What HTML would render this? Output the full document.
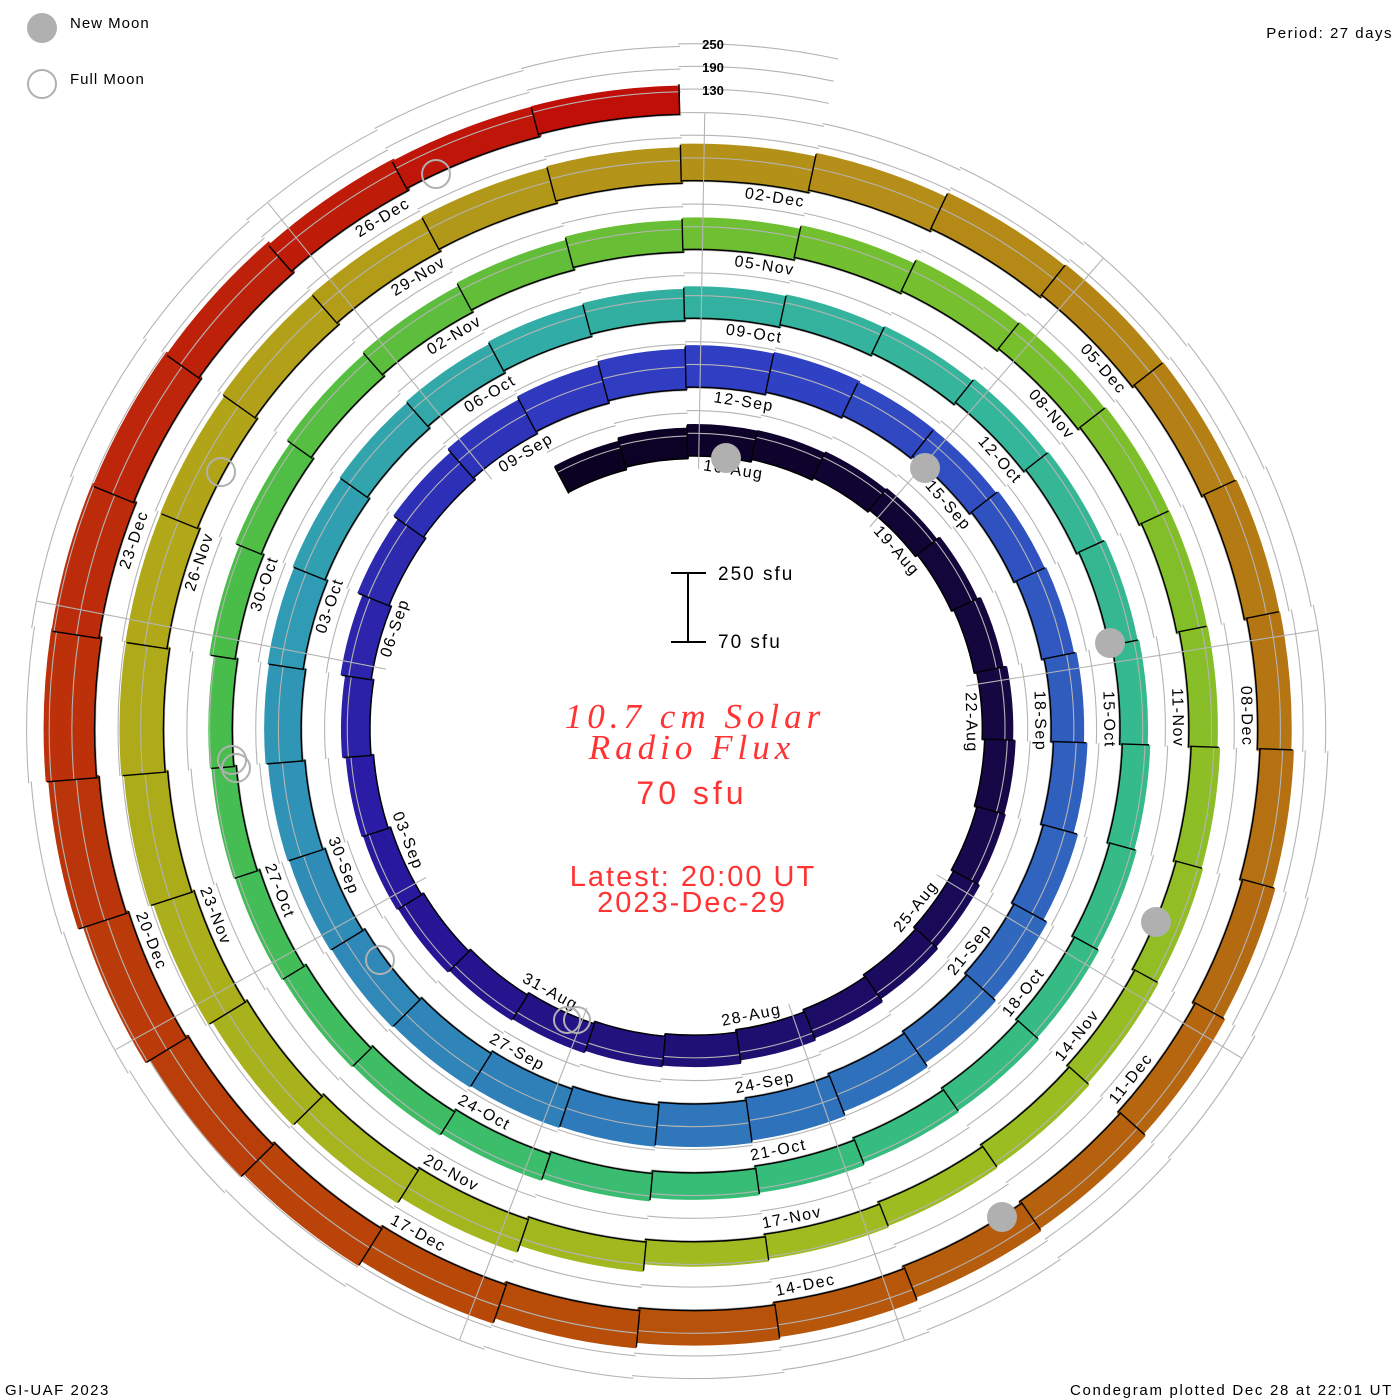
<!DOCTYPE html>
<html><head><meta charset="utf-8"><style>
html,body{margin:0;padding:0;background:#fff;width:1400px;height:1400px;overflow:hidden;}
svg{display:block;font-family:"Liberation Sans",sans-serif;}
.d circle{cx:0;cy:0;fill:none;transform:rotate(calc((var(--k) - 2.1) * 13.3333deg - 90deg));}
.b{r:calc(272px + 2.55px * (var(--k) - 1.6) + var(--h) * 0.5px);stroke:var(--c);stroke-width:calc(var(--h) * 1px);stroke-dasharray:13.6 720;}
.z{r:calc(272px + 2.55px * (var(--k) - 1.6));stroke:#000;stroke-width:1.5px;stroke-dasharray:13.5 720;}
.l1,.l2,.l3{stroke:#b4b4b4;stroke-width:1.1px;stroke-dasharray:13.5 720;}
.l1{r:calc(294.7px + 2.55px * (var(--k) - 1.6));}
.l2{r:calc(317.4px + 2.55px * (var(--k) - 1.6));}
.l3{r:calc(340px + 2.55px * (var(--k) - 1.6));}
.s{x:-0.7px;width:1.4px;y:calc(-272px - 2.55px * (var(--k) - 2.1) - var(--h) * 1px);height:calc(var(--h) * 1px);fill:#000;transform:rotate(calc((var(--k) - 2.1) * 13.3333deg));}
.sp rect{x:-0.55px;width:1.1px;height:355.4px;y:calc(-615.4px - 2.55px * var(--a) / 13.3333);fill:#b4b4b4;transform:rotate(calc(var(--a) * 1deg));}
.lb text{text-anchor:middle;dominant-baseline:central;letter-spacing:1.5px;transform:rotate(calc((0.65 + 3 * var(--i)) * 13.3333deg)) translateY(calc(-260px - 2.55px * (0.65 + 3 * var(--i)))) rotate(var(--f,0deg));}
</style></head><body>
<svg width="1400" height="1400" viewBox="0 0 1400 1400" xmlns="http://www.w3.org/2000/svg">
<rect width="1400" height="1400" fill="#fff"/>
<g transform="translate(694 729)">
<g class="d" style="--k:0;--h:30;--c:#0b0122"><circle class="b" pathLength="360"/><circle class="l1" pathLength="360"/><circle class="l2" pathLength="360"/><circle class="l3" pathLength="360"/><circle class="z" pathLength="360"/><rect class="s"/></g>
<g class="d" style="--k:1;--h:31;--c:#0c0226"><circle class="b" pathLength="360"/><circle class="l1" pathLength="360"/><circle class="l2" pathLength="360"/><circle class="l3" pathLength="360"/><circle class="z" pathLength="360"/><rect class="s"/></g>
<g class="d" style="--k:2;--h:32;--c:#0d032a"><circle class="b" pathLength="360"/><circle class="l1" pathLength="360"/><circle class="l2" pathLength="360"/><circle class="l3" pathLength="360"/><circle class="z" pathLength="360"/><rect class="s"/></g>
<g class="d" style="--k:3;--h:30;--c:#0f032e"><circle class="b" pathLength="360"/><circle class="l1" pathLength="360"/><circle class="l2" pathLength="360"/><circle class="l3" pathLength="360"/><circle class="z" pathLength="360"/><rect class="s"/></g>
<g class="d" style="--k:4;--h:29;--c:#100432"><circle class="b" pathLength="360"/><circle class="l1" pathLength="360"/><circle class="l2" pathLength="360"/><circle class="l3" pathLength="360"/><circle class="z" pathLength="360"/><rect class="s"/></g>
<g class="d" style="--k:5;--h:28;--c:#110536"><circle class="b" pathLength="360"/><circle class="l1" pathLength="360"/><circle class="l2" pathLength="360"/><circle class="l3" pathLength="360"/><circle class="z" pathLength="360"/><rect class="s"/></g>
<g class="d" style="--k:6;--h:29;--c:#12063a"><circle class="b" pathLength="360"/><circle class="l1" pathLength="360"/><circle class="l2" pathLength="360"/><circle class="l3" pathLength="360"/><circle class="z" pathLength="360"/><rect class="s"/></g>
<g class="d" style="--k:7;--h:30;--c:#14073e"><circle class="b" pathLength="360"/><circle class="l1" pathLength="360"/><circle class="l2" pathLength="360"/><circle class="l3" pathLength="360"/><circle class="z" pathLength="360"/><rect class="s"/></g>
<g class="d" style="--k:8;--h:31;--c:#150842"><circle class="b" pathLength="360"/><circle class="l1" pathLength="360"/><circle class="l2" pathLength="360"/><circle class="l3" pathLength="360"/><circle class="z" pathLength="360"/><rect class="s"/></g>
<g class="d" style="--k:9;--h:31;--c:#160846"><circle class="b" pathLength="360"/><circle class="l1" pathLength="360"/><circle class="l2" pathLength="360"/><circle class="l3" pathLength="360"/><circle class="z" pathLength="360"/><rect class="s"/></g>
<g class="d" style="--k:10;--h:30;--c:#18094e"><circle class="b" pathLength="360"/><circle class="l1" pathLength="360"/><circle class="l2" pathLength="360"/><circle class="l3" pathLength="360"/><circle class="z" pathLength="360"/><rect class="s"/></g>
<g class="d" style="--k:11;--h:30;--c:#190a58"><circle class="b" pathLength="360"/><circle class="l1" pathLength="360"/><circle class="l2" pathLength="360"/><circle class="l3" pathLength="360"/><circle class="z" pathLength="360"/><rect class="s"/></g>
<g class="d" style="--k:12;--h:30;--c:#1b0b5e"><circle class="b" pathLength="360"/><circle class="l1" pathLength="360"/><circle class="l2" pathLength="360"/><circle class="l3" pathLength="360"/><circle class="z" pathLength="360"/><rect class="s"/></g>
<g class="d" style="--k:13;--h:31;--c:#1c0c66"><circle class="b" pathLength="360"/><circle class="l1" pathLength="360"/><circle class="l2" pathLength="360"/><circle class="l3" pathLength="360"/><circle class="z" pathLength="360"/><rect class="s"/></g>
<g class="d" style="--k:14;--h:31;--c:#1e0e6e"><circle class="b" pathLength="360"/><circle class="l1" pathLength="360"/><circle class="l2" pathLength="360"/><circle class="l3" pathLength="360"/><circle class="z" pathLength="360"/><rect class="s"/></g>
<g class="d" style="--k:15;--h:32;--c:#1f1076"><circle class="b" pathLength="360"/><circle class="l1" pathLength="360"/><circle class="l2" pathLength="360"/><circle class="l3" pathLength="360"/><circle class="z" pathLength="360"/><rect class="s"/></g>
<g class="d" style="--k:16;--h:31;--c:#21127e"><circle class="b" pathLength="360"/><circle class="l1" pathLength="360"/><circle class="l2" pathLength="360"/><circle class="l3" pathLength="360"/><circle class="z" pathLength="360"/><rect class="s"/></g>
<g class="d" style="--k:17;--h:31;--c:#231386"><circle class="b" pathLength="360"/><circle class="l1" pathLength="360"/><circle class="l2" pathLength="360"/><circle class="l3" pathLength="360"/><circle class="z" pathLength="360"/><rect class="s"/></g>
<g class="d" style="--k:18;--h:30;--c:#24148e"><circle class="b" pathLength="360"/><circle class="l1" pathLength="360"/><circle class="l2" pathLength="360"/><circle class="l3" pathLength="360"/><circle class="z" pathLength="360"/><rect class="s"/></g>
<g class="d" style="--k:19;--h:30;--c:#261696"><circle class="b" pathLength="360"/><circle class="l1" pathLength="360"/><circle class="l2" pathLength="360"/><circle class="l3" pathLength="360"/><circle class="z" pathLength="360"/><rect class="s"/></g>
<g class="d" style="--k:20;--h:29;--c:#28189e"><circle class="b" pathLength="360"/><circle class="l1" pathLength="360"/><circle class="l2" pathLength="360"/><circle class="l3" pathLength="360"/><circle class="z" pathLength="360"/><rect class="s"/></g>
<g class="d" style="--k:21;--h:28;--c:#2a1ca4"><circle class="b" pathLength="360"/><circle class="l1" pathLength="360"/><circle class="l2" pathLength="360"/><circle class="l3" pathLength="360"/><circle class="z" pathLength="360"/><rect class="s"/></g>
<g class="d" style="--k:22;--h:29;--c:#2b20a8"><circle class="b" pathLength="360"/><circle class="l1" pathLength="360"/><circle class="l2" pathLength="360"/><circle class="l3" pathLength="360"/><circle class="z" pathLength="360"/><rect class="s"/></g>
<g class="d" style="--k:23;--h:31;--c:#2c25ac"><circle class="b" pathLength="360"/><circle class="l1" pathLength="360"/><circle class="l2" pathLength="360"/><circle class="l3" pathLength="360"/><circle class="z" pathLength="360"/><rect class="s"/></g>
<g class="d" style="--k:24;--h:34;--c:#2d2ab0"><circle class="b" pathLength="360"/><circle class="l1" pathLength="360"/><circle class="l2" pathLength="360"/><circle class="l3" pathLength="360"/><circle class="z" pathLength="360"/><rect class="s"/></g>
<g class="d" style="--k:25;--h:37;--c:#2d2fb6"><circle class="b" pathLength="360"/><circle class="l1" pathLength="360"/><circle class="l2" pathLength="360"/><circle class="l3" pathLength="360"/><circle class="z" pathLength="360"/><rect class="s"/></g>
<g class="d" style="--k:26;--h:39;--c:#2e34ba"><circle class="b" pathLength="360"/><circle class="l1" pathLength="360"/><circle class="l2" pathLength="360"/><circle class="l3" pathLength="360"/><circle class="z" pathLength="360"/><rect class="s"/></g>
<g class="d" style="--k:27;--h:40;--c:#2f38be"><circle class="b" pathLength="360"/><circle class="l1" pathLength="360"/><circle class="l2" pathLength="360"/><circle class="l3" pathLength="360"/><circle class="z" pathLength="360"/><rect class="s"/></g>
<g class="d" style="--k:28;--h:41;--c:#303cc2"><circle class="b" pathLength="360"/><circle class="l1" pathLength="360"/><circle class="l2" pathLength="360"/><circle class="l3" pathLength="360"/><circle class="z" pathLength="360"/><rect class="s"/></g>
<g class="d" style="--k:29;--h:42;--c:#303ec4"><circle class="b" pathLength="360"/><circle class="l1" pathLength="360"/><circle class="l2" pathLength="360"/><circle class="l3" pathLength="360"/><circle class="z" pathLength="360"/><rect class="s"/></g>
<g class="d" style="--k:30;--h:41;--c:#3042c4"><circle class="b" pathLength="360"/><circle class="l1" pathLength="360"/><circle class="l2" pathLength="360"/><circle class="l3" pathLength="360"/><circle class="z" pathLength="360"/><rect class="s"/></g>
<g class="d" style="--k:31;--h:37;--c:#3048c2"><circle class="b" pathLength="360"/><circle class="l1" pathLength="360"/><circle class="l2" pathLength="360"/><circle class="l3" pathLength="360"/><circle class="z" pathLength="360"/><rect class="s"/></g>
<g class="d" style="--k:32;--h:34;--c:#304ec2"><circle class="b" pathLength="360"/><circle class="l1" pathLength="360"/><circle class="l2" pathLength="360"/><circle class="l3" pathLength="360"/><circle class="z" pathLength="360"/><rect class="s"/></g>
<g class="d" style="--k:33;--h:34;--c:#3052c0"><circle class="b" pathLength="360"/><circle class="l1" pathLength="360"/><circle class="l2" pathLength="360"/><circle class="l3" pathLength="360"/><circle class="z" pathLength="360"/><rect class="s"/></g>
<g class="d" style="--k:34;--h:33;--c:#3058c0"><circle class="b" pathLength="360"/><circle class="l1" pathLength="360"/><circle class="l2" pathLength="360"/><circle class="l3" pathLength="360"/><circle class="z" pathLength="360"/><rect class="s"/></g>
<g class="d" style="--k:35;--h:33;--c:#305cbe"><circle class="b" pathLength="360"/><circle class="l1" pathLength="360"/><circle class="l2" pathLength="360"/><circle class="l3" pathLength="360"/><circle class="z" pathLength="360"/><rect class="s"/></g>
<g class="d" style="--k:36;--h:34;--c:#3060be"><circle class="b" pathLength="360"/><circle class="l1" pathLength="360"/><circle class="l2" pathLength="360"/><circle class="l3" pathLength="360"/><circle class="z" pathLength="360"/><rect class="s"/></g>
<g class="d" style="--k:37;--h:36;--c:#3064be"><circle class="b" pathLength="360"/><circle class="l1" pathLength="360"/><circle class="l2" pathLength="360"/><circle class="l3" pathLength="360"/><circle class="z" pathLength="360"/><rect class="s"/></g>
<g class="d" style="--k:38;--h:38;--c:#2f68bc"><circle class="b" pathLength="360"/><circle class="l1" pathLength="360"/><circle class="l2" pathLength="360"/><circle class="l3" pathLength="360"/><circle class="z" pathLength="360"/><rect class="s"/></g>
<g class="d" style="--k:39;--h:39;--c:#2f6cbc"><circle class="b" pathLength="360"/><circle class="l1" pathLength="360"/><circle class="l2" pathLength="360"/><circle class="l3" pathLength="360"/><circle class="z" pathLength="360"/><rect class="s"/></g>
<g class="d" style="--k:40;--h:41;--c:#2f70bc"><circle class="b" pathLength="360"/><circle class="l1" pathLength="360"/><circle class="l2" pathLength="360"/><circle class="l3" pathLength="360"/><circle class="z" pathLength="360"/><rect class="s"/></g>
<g class="d" style="--k:41;--h:43;--c:#2f72bc"><circle class="b" pathLength="360"/><circle class="l1" pathLength="360"/><circle class="l2" pathLength="360"/><circle class="l3" pathLength="360"/><circle class="z" pathLength="360"/><rect class="s"/></g>
<g class="d" style="--k:42;--h:43;--c:#2f76bb"><circle class="b" pathLength="360"/><circle class="l1" pathLength="360"/><circle class="l2" pathLength="360"/><circle class="l3" pathLength="360"/><circle class="z" pathLength="360"/><rect class="s"/></g>
<g class="d" style="--k:43;--h:42;--c:#2f7aba"><circle class="b" pathLength="360"/><circle class="l1" pathLength="360"/><circle class="l2" pathLength="360"/><circle class="l3" pathLength="360"/><circle class="z" pathLength="360"/><rect class="s"/></g>
<g class="d" style="--k:44;--h:41;--c:#2f7fb9"><circle class="b" pathLength="360"/><circle class="l1" pathLength="360"/><circle class="l2" pathLength="360"/><circle class="l3" pathLength="360"/><circle class="z" pathLength="360"/><rect class="s"/></g>
<g class="d" style="--k:45;--h:40;--c:#2f84b8"><circle class="b" pathLength="360"/><circle class="l1" pathLength="360"/><circle class="l2" pathLength="360"/><circle class="l3" pathLength="360"/><circle class="z" pathLength="360"/><rect class="s"/></g>
<g class="d" style="--k:46;--h:39;--c:#2f88b8"><circle class="b" pathLength="360"/><circle class="l1" pathLength="360"/><circle class="l2" pathLength="360"/><circle class="l3" pathLength="360"/><circle class="z" pathLength="360"/><rect class="s"/></g>
<g class="d" style="--k:47;--h:38;--c:#2f8cb7"><circle class="b" pathLength="360"/><circle class="l1" pathLength="360"/><circle class="l2" pathLength="360"/><circle class="l3" pathLength="360"/><circle class="z" pathLength="360"/><rect class="s"/></g>
<g class="d" style="--k:48;--h:37;--c:#3092b6"><circle class="b" pathLength="360"/><circle class="l1" pathLength="360"/><circle class="l2" pathLength="360"/><circle class="l3" pathLength="360"/><circle class="z" pathLength="360"/><rect class="s"/></g>
<g class="d" style="--k:49;--h:37;--c:#3096b5"><circle class="b" pathLength="360"/><circle class="l1" pathLength="360"/><circle class="l2" pathLength="360"/><circle class="l3" pathLength="360"/><circle class="z" pathLength="360"/><rect class="s"/></g>
<g class="d" style="--k:50;--h:36;--c:#309bb4"><circle class="b" pathLength="360"/><circle class="l1" pathLength="360"/><circle class="l2" pathLength="360"/><circle class="l3" pathLength="360"/><circle class="z" pathLength="360"/><rect class="s"/></g>
<g class="d" style="--k:51;--h:35;--c:#30a0b0"><circle class="b" pathLength="360"/><circle class="l1" pathLength="360"/><circle class="l2" pathLength="360"/><circle class="l3" pathLength="360"/><circle class="z" pathLength="360"/><rect class="s"/></g>
<g class="d" style="--k:52;--h:34;--c:#31a4ac"><circle class="b" pathLength="360"/><circle class="l1" pathLength="360"/><circle class="l2" pathLength="360"/><circle class="l3" pathLength="360"/><circle class="z" pathLength="360"/><rect class="s"/></g>
<g class="d" style="--k:53;--h:33;--c:#32a8a8"><circle class="b" pathLength="360"/><circle class="l1" pathLength="360"/><circle class="l2" pathLength="360"/><circle class="l3" pathLength="360"/><circle class="z" pathLength="360"/><rect class="s"/></g>
<g class="d" style="--k:54;--h:33;--c:#32aca6"><circle class="b" pathLength="360"/><circle class="l1" pathLength="360"/><circle class="l2" pathLength="360"/><circle class="l3" pathLength="360"/><circle class="z" pathLength="360"/><rect class="s"/></g>
<g class="d" style="--k:55;--h:32;--c:#33afa2"><circle class="b" pathLength="360"/><circle class="l1" pathLength="360"/><circle class="l2" pathLength="360"/><circle class="l3" pathLength="360"/><circle class="z" pathLength="360"/><rect class="s"/></g>
<g class="d" style="--k:56;--h:32;--c:#33b1a0"><circle class="b" pathLength="360"/><circle class="l1" pathLength="360"/><circle class="l2" pathLength="360"/><circle class="l3" pathLength="360"/><circle class="z" pathLength="360"/><rect class="s"/></g>
<g class="d" style="--k:57;--h:31;--c:#34b39e"><circle class="b" pathLength="360"/><circle class="l1" pathLength="360"/><circle class="l2" pathLength="360"/><circle class="l3" pathLength="360"/><circle class="z" pathLength="360"/><rect class="s"/></g>
<g class="d" style="--k:58;--h:30;--c:#34b59c"><circle class="b" pathLength="360"/><circle class="l1" pathLength="360"/><circle class="l2" pathLength="360"/><circle class="l3" pathLength="360"/><circle class="z" pathLength="360"/><rect class="s"/></g>
<g class="d" style="--k:59;--h:30;--c:#34b69a"><circle class="b" pathLength="360"/><circle class="l1" pathLength="360"/><circle class="l2" pathLength="360"/><circle class="l3" pathLength="360"/><circle class="z" pathLength="360"/><rect class="s"/></g>
<g class="d" style="--k:60;--h:29;--c:#35b796"><circle class="b" pathLength="360"/><circle class="l1" pathLength="360"/><circle class="l2" pathLength="360"/><circle class="l3" pathLength="360"/><circle class="z" pathLength="360"/><rect class="s"/></g>
<g class="d" style="--k:61;--h:29;--c:#35b892"><circle class="b" pathLength="360"/><circle class="l1" pathLength="360"/><circle class="l2" pathLength="360"/><circle class="l3" pathLength="360"/><circle class="z" pathLength="360"/><rect class="s"/></g>
<g class="d" style="--k:62;--h:28;--c:#35b98e"><circle class="b" pathLength="360"/><circle class="l1" pathLength="360"/><circle class="l2" pathLength="360"/><circle class="l3" pathLength="360"/><circle class="z" pathLength="360"/><rect class="s"/></g>
<g class="d" style="--k:63;--h:28;--c:#35ba8a"><circle class="b" pathLength="360"/><circle class="l1" pathLength="360"/><circle class="l2" pathLength="360"/><circle class="l3" pathLength="360"/><circle class="z" pathLength="360"/><rect class="s"/></g>
<g class="d" style="--k:64;--h:28;--c:#36bb86"><circle class="b" pathLength="360"/><circle class="l1" pathLength="360"/><circle class="l2" pathLength="360"/><circle class="l3" pathLength="360"/><circle class="z" pathLength="360"/><rect class="s"/></g>
<g class="d" style="--k:65;--h:28;--c:#36bb84"><circle class="b" pathLength="360"/><circle class="l1" pathLength="360"/><circle class="l2" pathLength="360"/><circle class="l3" pathLength="360"/><circle class="z" pathLength="360"/><rect class="s"/></g>
<g class="d" style="--k:66;--h:28;--c:#36bc80"><circle class="b" pathLength="360"/><circle class="l1" pathLength="360"/><circle class="l2" pathLength="360"/><circle class="l3" pathLength="360"/><circle class="z" pathLength="360"/><rect class="s"/></g>
<g class="d" style="--k:67;--h:27;--c:#36bc7e"><circle class="b" pathLength="360"/><circle class="l1" pathLength="360"/><circle class="l2" pathLength="360"/><circle class="l3" pathLength="360"/><circle class="z" pathLength="360"/><rect class="s"/></g>
<g class="d" style="--k:68;--h:27;--c:#36bd7c"><circle class="b" pathLength="360"/><circle class="l1" pathLength="360"/><circle class="l2" pathLength="360"/><circle class="l3" pathLength="360"/><circle class="z" pathLength="360"/><rect class="s"/></g>
<g class="d" style="--k:69;--h:27;--c:#38bd76"><circle class="b" pathLength="360"/><circle class="l1" pathLength="360"/><circle class="l2" pathLength="360"/><circle class="l3" pathLength="360"/><circle class="z" pathLength="360"/><rect class="s"/></g>
<g class="d" style="--k:70;--h:28;--c:#3abd70"><circle class="b" pathLength="360"/><circle class="l1" pathLength="360"/><circle class="l2" pathLength="360"/><circle class="l3" pathLength="360"/><circle class="z" pathLength="360"/><rect class="s"/></g>
<g class="d" style="--k:71;--h:28;--c:#3cbd6a"><circle class="b" pathLength="360"/><circle class="l1" pathLength="360"/><circle class="l2" pathLength="360"/><circle class="l3" pathLength="360"/><circle class="z" pathLength="360"/><rect class="s"/></g>
<g class="d" style="--k:72;--h:28;--c:#3ebd64"><circle class="b" pathLength="360"/><circle class="l1" pathLength="360"/><circle class="l2" pathLength="360"/><circle class="l3" pathLength="360"/><circle class="z" pathLength="360"/><rect class="s"/></g>
<g class="d" style="--k:73;--h:27;--c:#40bd5e"><circle class="b" pathLength="360"/><circle class="l1" pathLength="360"/><circle class="l2" pathLength="360"/><circle class="l3" pathLength="360"/><circle class="z" pathLength="360"/><rect class="s"/></g>
<g class="d" style="--k:74;--h:26;--c:#43bd58"><circle class="b" pathLength="360"/><circle class="l1" pathLength="360"/><circle class="l2" pathLength="360"/><circle class="l3" pathLength="360"/><circle class="z" pathLength="360"/><rect class="s"/></g>
<g class="d" style="--k:75;--h:25;--c:#45bd52"><circle class="b" pathLength="360"/><circle class="l1" pathLength="360"/><circle class="l2" pathLength="360"/><circle class="l3" pathLength="360"/><circle class="z" pathLength="360"/><rect class="s"/></g>
<g class="d" style="--k:76;--h:24;--c:#48bd4c"><circle class="b" pathLength="360"/><circle class="l1" pathLength="360"/><circle class="l2" pathLength="360"/><circle class="l3" pathLength="360"/><circle class="z" pathLength="360"/><rect class="s"/></g>
<g class="d" style="--k:77;--h:26;--c:#4abd48"><circle class="b" pathLength="360"/><circle class="l1" pathLength="360"/><circle class="l2" pathLength="360"/><circle class="l3" pathLength="360"/><circle class="z" pathLength="360"/><rect class="s"/></g>
<g class="d" style="--k:78;--h:28;--c:#50bd44"><circle class="b" pathLength="360"/><circle class="l1" pathLength="360"/><circle class="l2" pathLength="360"/><circle class="l3" pathLength="360"/><circle class="z" pathLength="360"/><rect class="s"/></g>
<g class="d" style="--k:79;--h:30;--c:#56be40"><circle class="b" pathLength="360"/><circle class="l1" pathLength="360"/><circle class="l2" pathLength="360"/><circle class="l3" pathLength="360"/><circle class="z" pathLength="360"/><rect class="s"/></g>
<g class="d" style="--k:80;--h:30;--c:#5cbe3c"><circle class="b" pathLength="360"/><circle class="l1" pathLength="360"/><circle class="l2" pathLength="360"/><circle class="l3" pathLength="360"/><circle class="z" pathLength="360"/><rect class="s"/></g>
<g class="d" style="--k:81;--h:31;--c:#62be38"><circle class="b" pathLength="360"/><circle class="l1" pathLength="360"/><circle class="l2" pathLength="360"/><circle class="l3" pathLength="360"/><circle class="z" pathLength="360"/><rect class="s"/></g>
<g class="d" style="--k:82;--h:32;--c:#68be35"><circle class="b" pathLength="360"/><circle class="l1" pathLength="360"/><circle class="l2" pathLength="360"/><circle class="l3" pathLength="360"/><circle class="z" pathLength="360"/><rect class="s"/></g>
<g class="d" style="--k:83;--h:32;--c:#6ebf32"><circle class="b" pathLength="360"/><circle class="l1" pathLength="360"/><circle class="l2" pathLength="360"/><circle class="l3" pathLength="360"/><circle class="z" pathLength="360"/><rect class="s"/></g>
<g class="d" style="--k:84;--h:33;--c:#72bf30"><circle class="b" pathLength="360"/><circle class="l1" pathLength="360"/><circle class="l2" pathLength="360"/><circle class="l3" pathLength="360"/><circle class="z" pathLength="360"/><rect class="s"/></g>
<g class="d" style="--k:85;--h:35;--c:#76bf2e"><circle class="b" pathLength="360"/><circle class="l1" pathLength="360"/><circle class="l2" pathLength="360"/><circle class="l3" pathLength="360"/><circle class="z" pathLength="360"/><rect class="s"/></g>
<g class="d" style="--k:86;--h:34;--c:#78bf2c"><circle class="b" pathLength="360"/><circle class="l1" pathLength="360"/><circle class="l2" pathLength="360"/><circle class="l3" pathLength="360"/><circle class="z" pathLength="360"/><rect class="s"/></g>
<g class="d" style="--k:87;--h:33;--c:#7cbf2a"><circle class="b" pathLength="360"/><circle class="l1" pathLength="360"/><circle class="l2" pathLength="360"/><circle class="l3" pathLength="360"/><circle class="z" pathLength="360"/><rect class="s"/></g>
<g class="d" style="--k:88;--h:31;--c:#82be28"><circle class="b" pathLength="360"/><circle class="l1" pathLength="360"/><circle class="l2" pathLength="360"/><circle class="l3" pathLength="360"/><circle class="z" pathLength="360"/><rect class="s"/></g>
<g class="d" style="--k:89;--h:29;--c:#88be27"><circle class="b" pathLength="360"/><circle class="l1" pathLength="360"/><circle class="l2" pathLength="360"/><circle class="l3" pathLength="360"/><circle class="z" pathLength="360"/><rect class="s"/></g>
<g class="d" style="--k:90;--h:29;--c:#8dbe25"><circle class="b" pathLength="360"/><circle class="l1" pathLength="360"/><circle class="l2" pathLength="360"/><circle class="l3" pathLength="360"/><circle class="z" pathLength="360"/><rect class="s"/></g>
<g class="d" style="--k:91;--h:28;--c:#92bd24"><circle class="b" pathLength="360"/><circle class="l1" pathLength="360"/><circle class="l2" pathLength="360"/><circle class="l3" pathLength="360"/><circle class="z" pathLength="360"/><rect class="s"/></g>
<g class="d" style="--k:92;--h:27;--c:#96bd22"><circle class="b" pathLength="360"/><circle class="l1" pathLength="360"/><circle class="l2" pathLength="360"/><circle class="l3" pathLength="360"/><circle class="z" pathLength="360"/><rect class="s"/></g>
<g class="d" style="--k:93;--h:27;--c:#9abd21"><circle class="b" pathLength="360"/><circle class="l1" pathLength="360"/><circle class="l2" pathLength="360"/><circle class="l3" pathLength="360"/><circle class="z" pathLength="360"/><rect class="s"/></g>
<g class="d" style="--k:94;--h:26;--c:#9dbc20"><circle class="b" pathLength="360"/><circle class="l1" pathLength="360"/><circle class="l2" pathLength="360"/><circle class="l3" pathLength="360"/><circle class="z" pathLength="360"/><rect class="s"/></g>
<g class="d" style="--k:95;--h:25;--c:#9ebc20"><circle class="b" pathLength="360"/><circle class="l1" pathLength="360"/><circle class="l2" pathLength="360"/><circle class="l3" pathLength="360"/><circle class="z" pathLength="360"/><rect class="s"/></g>
<g class="d" style="--k:96;--h:25;--c:#a0ba20"><circle class="b" pathLength="360"/><circle class="l1" pathLength="360"/><circle class="l2" pathLength="360"/><circle class="l3" pathLength="360"/><circle class="z" pathLength="360"/><rect class="s"/></g>
<g class="d" style="--k:97;--h:30;--c:#a2b81f"><circle class="b" pathLength="360"/><circle class="l1" pathLength="360"/><circle class="l2" pathLength="360"/><circle class="l3" pathLength="360"/><circle class="z" pathLength="360"/><rect class="s"/></g>
<g class="d" style="--k:98;--h:35;--c:#a4b61e"><circle class="b" pathLength="360"/><circle class="l1" pathLength="360"/><circle class="l2" pathLength="360"/><circle class="l3" pathLength="360"/><circle class="z" pathLength="360"/><rect class="s"/></g>
<g class="d" style="--k:99;--h:39;--c:#a6b41d"><circle class="b" pathLength="360"/><circle class="l1" pathLength="360"/><circle class="l2" pathLength="360"/><circle class="l3" pathLength="360"/><circle class="z" pathLength="360"/><rect class="s"/></g>
<g class="d" style="--k:100;--h:41;--c:#a8b21c"><circle class="b" pathLength="360"/><circle class="l1" pathLength="360"/><circle class="l2" pathLength="360"/><circle class="l3" pathLength="360"/><circle class="z" pathLength="360"/><rect class="s"/></g>
<g class="d" style="--k:101;--h:43;--c:#aaaf1b"><circle class="b" pathLength="360"/><circle class="l1" pathLength="360"/><circle class="l2" pathLength="360"/><circle class="l3" pathLength="360"/><circle class="z" pathLength="360"/><rect class="s"/></g>
<g class="d" style="--k:102;--h:44;--c:#acac1a"><circle class="b" pathLength="360"/><circle class="l1" pathLength="360"/><circle class="l2" pathLength="360"/><circle class="l3" pathLength="360"/><circle class="z" pathLength="360"/><rect class="s"/></g>
<g class="d" style="--k:103;--h:44;--c:#aeaa19"><circle class="b" pathLength="360"/><circle class="l1" pathLength="360"/><circle class="l2" pathLength="360"/><circle class="l3" pathLength="360"/><circle class="z" pathLength="360"/><rect class="s"/></g>
<g class="d" style="--k:104;--h:42;--c:#b0a818"><circle class="b" pathLength="360"/><circle class="l1" pathLength="360"/><circle class="l2" pathLength="360"/><circle class="l3" pathLength="360"/><circle class="z" pathLength="360"/><rect class="s"/></g>
<g class="d" style="--k:105;--h:40;--c:#b1a418"><circle class="b" pathLength="360"/><circle class="l1" pathLength="360"/><circle class="l2" pathLength="360"/><circle class="l3" pathLength="360"/><circle class="z" pathLength="360"/><rect class="s"/></g>
<g class="d" style="--k:106;--h:40;--c:#b1a018"><circle class="b" pathLength="360"/><circle class="l1" pathLength="360"/><circle class="l2" pathLength="360"/><circle class="l3" pathLength="360"/><circle class="z" pathLength="360"/><rect class="s"/></g>
<g class="d" style="--k:107;--h:38;--c:#b29c18"><circle class="b" pathLength="360"/><circle class="l1" pathLength="360"/><circle class="l2" pathLength="360"/><circle class="l3" pathLength="360"/><circle class="z" pathLength="360"/><rect class="s"/></g>
<g class="d" style="--k:108;--h:37;--c:#b29818"><circle class="b" pathLength="360"/><circle class="l1" pathLength="360"/><circle class="l2" pathLength="360"/><circle class="l3" pathLength="360"/><circle class="z" pathLength="360"/><rect class="s"/></g>
<g class="d" style="--k:109;--h:36;--c:#b39418"><circle class="b" pathLength="360"/><circle class="l1" pathLength="360"/><circle class="l2" pathLength="360"/><circle class="l3" pathLength="360"/><circle class="z" pathLength="360"/><rect class="s"/></g>
<g class="d" style="--k:110;--h:37;--c:#b39118"><circle class="b" pathLength="360"/><circle class="l1" pathLength="360"/><circle class="l2" pathLength="360"/><circle class="l3" pathLength="360"/><circle class="z" pathLength="360"/><rect class="s"/></g>
<g class="d" style="--k:111;--h:38;--c:#b48e18"><circle class="b" pathLength="360"/><circle class="l1" pathLength="360"/><circle class="l2" pathLength="360"/><circle class="l3" pathLength="360"/><circle class="z" pathLength="360"/><rect class="s"/></g>
<g class="d" style="--k:112;--h:40;--c:#b48916"><circle class="b" pathLength="360"/><circle class="l1" pathLength="360"/><circle class="l2" pathLength="360"/><circle class="l3" pathLength="360"/><circle class="z" pathLength="360"/><rect class="s"/></g>
<g class="d" style="--k:113;--h:39;--c:#b48415"><circle class="b" pathLength="360"/><circle class="l1" pathLength="360"/><circle class="l2" pathLength="360"/><circle class="l3" pathLength="360"/><circle class="z" pathLength="360"/><rect class="s"/></g>
<g class="d" style="--k:114;--h:37;--c:#b47f14"><circle class="b" pathLength="360"/><circle class="l1" pathLength="360"/><circle class="l2" pathLength="360"/><circle class="l3" pathLength="360"/><circle class="z" pathLength="360"/><rect class="s"/></g>
<g class="d" style="--k:115;--h:36;--c:#b47a13"><circle class="b" pathLength="360"/><circle class="l1" pathLength="360"/><circle class="l2" pathLength="360"/><circle class="l3" pathLength="360"/><circle class="z" pathLength="360"/><rect class="s"/></g>
<g class="d" style="--k:116;--h:34;--c:#b47512"><circle class="b" pathLength="360"/><circle class="l1" pathLength="360"/><circle class="l2" pathLength="360"/><circle class="l3" pathLength="360"/><circle class="z" pathLength="360"/><rect class="s"/></g>
<g class="d" style="--k:117;--h:34;--c:#b47011"><circle class="b" pathLength="360"/><circle class="l1" pathLength="360"/><circle class="l2" pathLength="360"/><circle class="l3" pathLength="360"/><circle class="z" pathLength="360"/><rect class="s"/></g>
<g class="d" style="--k:118;--h:34;--c:#b46a10"><circle class="b" pathLength="360"/><circle class="l1" pathLength="360"/><circle class="l2" pathLength="360"/><circle class="l3" pathLength="360"/><circle class="z" pathLength="360"/><rect class="s"/></g>
<g class="d" style="--k:119;--h:34;--c:#b5660f"><circle class="b" pathLength="360"/><circle class="l1" pathLength="360"/><circle class="l2" pathLength="360"/><circle class="l3" pathLength="360"/><circle class="z" pathLength="360"/><rect class="s"/></g>
<g class="d" style="--k:120;--h:34;--c:#b5610e"><circle class="b" pathLength="360"/><circle class="l1" pathLength="360"/><circle class="l2" pathLength="360"/><circle class="l3" pathLength="360"/><circle class="z" pathLength="360"/><rect class="s"/></g>
<g class="d" style="--k:121;--h:34;--c:#b65c0d"><circle class="b" pathLength="360"/><circle class="l1" pathLength="360"/><circle class="l2" pathLength="360"/><circle class="l3" pathLength="360"/><circle class="z" pathLength="360"/><rect class="s"/></g>
<g class="d" style="--k:122;--h:35;--c:#b6570b"><circle class="b" pathLength="360"/><circle class="l1" pathLength="360"/><circle class="l2" pathLength="360"/><circle class="l3" pathLength="360"/><circle class="z" pathLength="360"/><rect class="s"/></g>
<g class="d" style="--k:123;--h:35;--c:#b7520a"><circle class="b" pathLength="360"/><circle class="l1" pathLength="360"/><circle class="l2" pathLength="360"/><circle class="l3" pathLength="360"/><circle class="z" pathLength="360"/><rect class="s"/></g>
<g class="d" style="--k:124;--h:38;--c:#b74d09"><circle class="b" pathLength="360"/><circle class="l1" pathLength="360"/><circle class="l2" pathLength="360"/><circle class="l3" pathLength="360"/><circle class="z" pathLength="360"/><rect class="s"/></g>
<g class="d" style="--k:125;--h:41;--c:#b84808"><circle class="b" pathLength="360"/><circle class="l1" pathLength="360"/><circle class="l2" pathLength="360"/><circle class="l3" pathLength="360"/><circle class="z" pathLength="360"/><rect class="s"/></g>
<g class="d" style="--k:126;--h:44;--c:#b94308"><circle class="b" pathLength="360"/><circle class="l1" pathLength="360"/><circle class="l2" pathLength="360"/><circle class="l3" pathLength="360"/><circle class="z" pathLength="360"/><rect class="s"/></g>
<g class="d" style="--k:127;--h:46;--c:#b93e09"><circle class="b" pathLength="360"/><circle class="l1" pathLength="360"/><circle class="l2" pathLength="360"/><circle class="l3" pathLength="360"/><circle class="z" pathLength="360"/><rect class="s"/></g>
<g class="d" style="--k:128;--h:48;--c:#ba3a09"><circle class="b" pathLength="360"/><circle class="l1" pathLength="360"/><circle class="l2" pathLength="360"/><circle class="l3" pathLength="360"/><circle class="z" pathLength="360"/><rect class="s"/></g>
<g class="d" style="--k:129;--h:51;--c:#bb350a"><circle class="b" pathLength="360"/><circle class="l1" pathLength="360"/><circle class="l2" pathLength="360"/><circle class="l3" pathLength="360"/><circle class="z" pathLength="360"/><rect class="s"/></g>
<g class="d" style="--k:130;--h:51;--c:#bc300a"><circle class="b" pathLength="360"/><circle class="l1" pathLength="360"/><circle class="l2" pathLength="360"/><circle class="l3" pathLength="360"/><circle class="z" pathLength="360"/><rect class="s"/></g>
<g class="d" style="--k:131;--h:48;--c:#bc2b0a"><circle class="b" pathLength="360"/><circle class="l1" pathLength="360"/><circle class="l2" pathLength="360"/><circle class="l3" pathLength="360"/><circle class="z" pathLength="360"/><rect class="s"/></g>
<g class="d" style="--k:132;--h:44;--c:#bd260a"><circle class="b" pathLength="360"/><circle class="l1" pathLength="360"/><circle class="l2" pathLength="360"/><circle class="l3" pathLength="360"/><circle class="z" pathLength="360"/><rect class="s"/></g>
<g class="d" style="--k:133;--h:40;--c:#be210a"><circle class="b" pathLength="360"/><circle class="l1" pathLength="360"/><circle class="l2" pathLength="360"/><circle class="l3" pathLength="360"/><circle class="z" pathLength="360"/><rect class="s"/></g>
<g class="d" style="--k:134;--h:35;--c:#be1c09"><circle class="b" pathLength="360"/><circle class="l1" pathLength="360"/><circle class="l2" pathLength="360"/><circle class="l3" pathLength="360"/><circle class="z" pathLength="360"/><rect class="s"/></g>
<g class="d" style="--k:135;--h:31;--c:#bf1609"><circle class="b" pathLength="360"/><circle class="l1" pathLength="360"/><circle class="l2" pathLength="360"/><circle class="l3" pathLength="360"/><circle class="z" pathLength="360"/><rect class="s"/></g>
<g class="d" style="--k:136;--h:29;--c:#c00f08"><circle class="b" pathLength="360" style="stroke-dasharray:13.4 720"/><circle class="l1" pathLength="360"/><circle class="l2" pathLength="360"/><circle class="l3" pathLength="360"/><circle class="z" pathLength="360" style="stroke-dasharray:13.4 720"/><rect class="s"/></g>
<g class="d" style="--k:137;--h:29;--c:#c00f08"><circle class="l1" pathLength="360"/><circle class="l2" pathLength="360"/><circle class="l3" pathLength="360"/><rect class="s"/></g>
<g class="sp">
<rect style="--a:1"/><rect style="--a:41"/><rect style="--a:81"/><rect style="--a:121"/><rect style="--a:161"/><rect style="--a:201"/><rect style="--a:241"/><rect style="--a:281"/><rect style="--a:321"/>
</g>
<g class="lb" font-size="16" fill="#000">
<text style="--i:0">16-Aug</text><text style="--i:1">19-Aug</text><text style="--i:2">22-Aug</text><text style="--i:3;--f:180deg">25-Aug</text><text style="--i:4;--f:180deg">28-Aug</text><text style="--i:5;--f:180deg">31-Aug</text>
<text style="--i:6;--f:180deg">03-Sep</text><text style="--i:7">06-Sep</text><text style="--i:8">09-Sep</text><text style="--i:9">12-Sep</text><text style="--i:10">15-Sep</text><text style="--i:11">18-Sep</text><text style="--i:12;--f:180deg">21-Sep</text><text style="--i:13;--f:180deg">24-Sep</text><text style="--i:14;--f:180deg">27-Sep</text><text style="--i:15;--f:180deg">30-Sep</text>
<text style="--i:16">03-Oct</text><text style="--i:17">06-Oct</text><text style="--i:18">09-Oct</text><text style="--i:19">12-Oct</text><text style="--i:20">15-Oct</text><text style="--i:21;--f:180deg">18-Oct</text><text style="--i:22;--f:180deg">21-Oct</text><text style="--i:23;--f:180deg">24-Oct</text><text style="--i:24;--f:180deg">27-Oct</text><text style="--i:25">30-Oct</text>
<text style="--i:26">02-Nov</text><text style="--i:27">05-Nov</text><text style="--i:28">08-Nov</text><text style="--i:29">11-Nov</text><text style="--i:30;--f:180deg">14-Nov</text><text style="--i:31;--f:180deg">17-Nov</text><text style="--i:32;--f:180deg">20-Nov</text><text style="--i:33;--f:180deg">23-Nov</text><text style="--i:34">26-Nov</text><text style="--i:35">29-Nov</text>
<text style="--i:36">02-Dec</text><text style="--i:37">05-Dec</text><text style="--i:38">08-Dec</text><text style="--i:39;--f:180deg">11-Dec</text><text style="--i:40;--f:180deg">14-Dec</text><text style="--i:41;--f:180deg">17-Dec</text><text style="--i:42;--f:180deg">20-Dec</text><text style="--i:43">23-Dec</text><text style="--i:44">26-Dec</text>
</g>
</g>
<g fill="#b0b0b0">
<circle cx="726" cy="458" r="15"/><circle cx="925" cy="468" r="15"/><circle cx="1110" cy="643" r="15"/><circle cx="1156" cy="922" r="15"/><circle cx="1002" cy="1217" r="15"/>
</g>
<g fill="none" stroke="#b0b0b0" stroke-width="2">
<circle cx="436" cy="174" r="14"/><circle cx="221" cy="472" r="14"/><circle cx="232" cy="760" r="14"/><circle cx="236" cy="768" r="14"/><circle cx="380" cy="960" r="14"/><circle cx="567" cy="1020" r="13"/><circle cx="577" cy="1020" r="13"/>
</g>
<circle cx="42" cy="28" r="15" fill="#b0b0b0"/>
<text x="70" y="28" font-size="15" letter-spacing="1" fill="#000">New Moon</text>
<circle cx="42" cy="84" r="14" fill="none" stroke="#b0b0b0" stroke-width="2"/>
<text x="70" y="84" font-size="15" letter-spacing="1" fill="#000">Full Moon</text>
<text x="1393" y="38" font-size="15" letter-spacing="1.5" text-anchor="end" fill="#000">Period: 27 days</text>
<text x="5" y="1395" font-size="15" letter-spacing="1.5" fill="#000">GI-UAF 2023</text>
<text x="1393" y="1395" font-size="15" letter-spacing="1.7" text-anchor="end" fill="#000">Condegram plotted Dec 28 at 22:01 UT</text>
<g font-size="13" font-weight="bold" text-anchor="middle" fill="#000">
<text x="713" y="49">250</text><text x="713" y="72">190</text><text x="713" y="95">130</text>
</g>
<g stroke="#000" stroke-width="2"><line x1="688" y1="573" x2="688" y2="642"/><line x1="671" y1="573" x2="706" y2="573"/><line x1="671" y1="642" x2="706" y2="642"/></g>
<text x="718" y="580" font-size="19" letter-spacing="2" fill="#000">250 sfu</text>
<text x="718" y="648" font-size="19" letter-spacing="2" fill="#000">70 sfu</text>
<g fill="#ff3333" text-anchor="middle">
<text x="695" y="728" font-size="35" font-style="italic" font-family="Liberation Serif, serif" letter-spacing="5">10.7 cm Solar</text>
<text x="692" y="759" font-size="35" font-style="italic" font-family="Liberation Serif, serif" letter-spacing="5">Radio Flux</text>
<text x="692" y="804" font-size="32" letter-spacing="4">70 sfu</text>
<text x="693" y="886" font-size="29" letter-spacing="2">Latest: 20:00 UT</text>
<text x="692" y="912" font-size="29" letter-spacing="2">2023-Dec-29</text>
</g>
</svg>
</body></html>
